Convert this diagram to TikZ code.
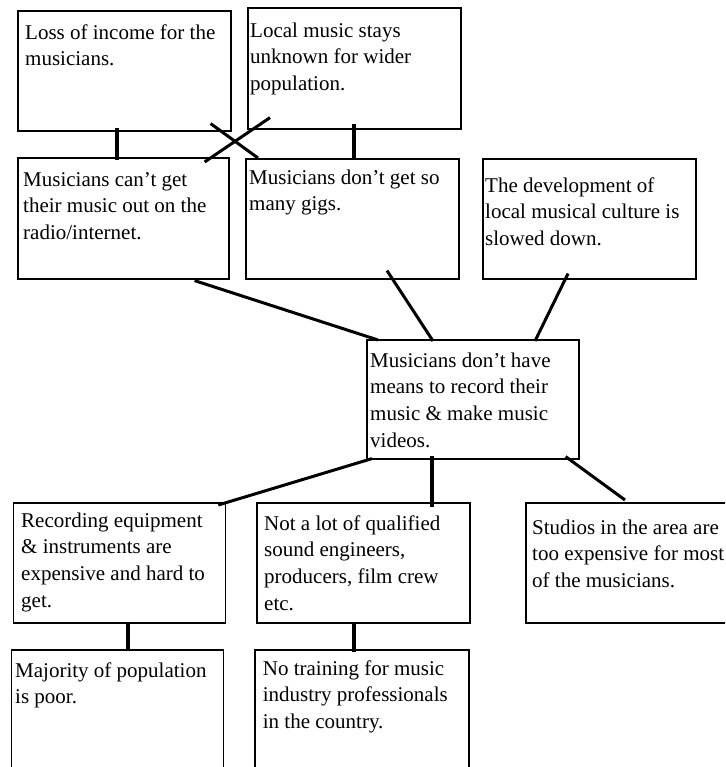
\documentclass[tikz,border=0pt]{standalone}
\usepackage{fontspec}
\setmainfont{Liberation Serif}
\begin{document}
\begin{tikzpicture}[x=1pt,y=-1pt,
  box/.style={draw=black, line width=1.6pt, rectangle, anchor=north west, inner sep=0pt},
  txt/.style={anchor=north west, yshift=18.69pt, inner sep=0pt, align=left, font=\fontsize{21}{26.7}\selectfont},
  link/.style={line width=3pt, black},
  vlink/.style={line width=3.6pt, black}]
\useasboundingbox (0,0) rectangle (725,767);
\clip (0,0) rectangle (725,767);
% boxes
\node[box, minimum width=213pt, minimum height=120pt] (A) at (17,10) {};
\node[box, minimum width=213pt, minimum height=121pt] (B) at (247,7) {};
\node[box, minimum width=211pt, minimum height=121pt] (C) at (17,157) {};
\node[box, minimum width=213pt, minimum height=120pt] (D) at (245,158) {};
\node[box, minimum width=213pt, minimum height=120pt] (E) at (482,158) {};
\node[box, minimum width=212pt, minimum height=119pt] (F) at (366,339) {};
\node[box, minimum width=212pt, minimum height=120pt] (G) at (12.7,502) {};
\node[box, minimum width=213pt, minimum height=120pt] (H) at (256,502) {};
\node[box, minimum width=220pt, minimum height=120pt] (I) at (525,502) {};
\node[box, minimum width=212pt, minimum height=160pt] (J) at (10.7,649) {};
\node[box, minimum width=214pt, minimum height=160pt] (K) at (254,649) {};
% texts
\node[txt] (tA) at ([shift={(8,29)}]A.north west) {\strut Loss of income for the\\musicians.};
\node[txt] (tB) at ([shift={(3,30)}]B.north west) {\strut Local music stays\\unknown for wider\\population.};
\node[txt] (tC) at ([shift={(6,29)}]C.north west) {\strut Musicians can't get\\their music out on the\\radio/internet.};
\node[txt] (tD) at ([shift={(4,26)}]D.north west) {\strut Musicians don't get so\\many gigs.};
\node[txt] (tE) at ([shift={(3,34)}]E.north west) {\strut The development of\\local musical culture is\\slowed down.};
\node[txt] (tF) at ([shift={(4,28)}]F.north west) {\strut Musicians don't have\\means to record their\\music \& make music\\videos.};
\node[txt] (tG) at ([shift={(8.3,25)}]G.north west) {\strut Recording equipment\\\& instruments are\\expensive and hard to\\get.};
\node[txt] (tH) at ([shift={(8,28)}]H.north west) {\strut Not a lot of qualified\\sound engineers,\\producers, film crew\\etc.};
\node[txt] (tI) at ([shift={(7,32)}]I.north west) {\strut Studios in the area are\\too expensive for most\\of the musicians.};
\node[txt] (tJ) at ([shift={(4.3,28)}]J.north west) {\strut Majority of population\\is poor.};
\node[txt] (tK) at ([shift={(8.7,26)}]K.north west) {\strut No training for music\\industry professionals\\in the country.};
% connectors
\draw[vlink] ([shift={(100,-4)}]A.south west) -- ([shift={(100,3)}]C.north west);
\draw[vlink] ([shift={(107,-6)}]B.south west) -- ([shift={(109,2)}]D.north west);
\draw[link] ([shift={(-21,-8)}]A.south east) -- ([shift={(13,0)}]D.north west);
\draw[link] ([shift={(23,-12)}]B.south west) -- ([shift={(-25,5)}]C.north east);
\draw[link] ([shift={(-35,1)}]C.south east) -- ([shift={(12,1)}]F.north west);
\draw[link] ([shift={(142,-9)}]D.south west) -- ([shift={(67,2)}]F.north west);
\draw[link] ([shift={(86,-6)}]E.south west) -- ([shift={(169,2)}]F.north west);
\draw[link] ([shift={(6,-1)}]F.south west) -- ([shift={(-8,3)}]G.north east);
\draw[vlink] ([shift={(66,-4)}]F.south west) -- ([shift={(176,5)}]H.north west);
\draw[link] ([shift={(-14,-3)}]F.south east) -- ([shift={(100,-2)}]I.north west);
\draw[vlink] ([shift={(115,-2)}]G.south west) -- ([shift={(117,2)}]J.north west);
\draw[vlink] ([shift={(98,-2)}]H.south west) -- ([shift={(100,3)}]K.north west);
\end{tikzpicture}
\end{document}
